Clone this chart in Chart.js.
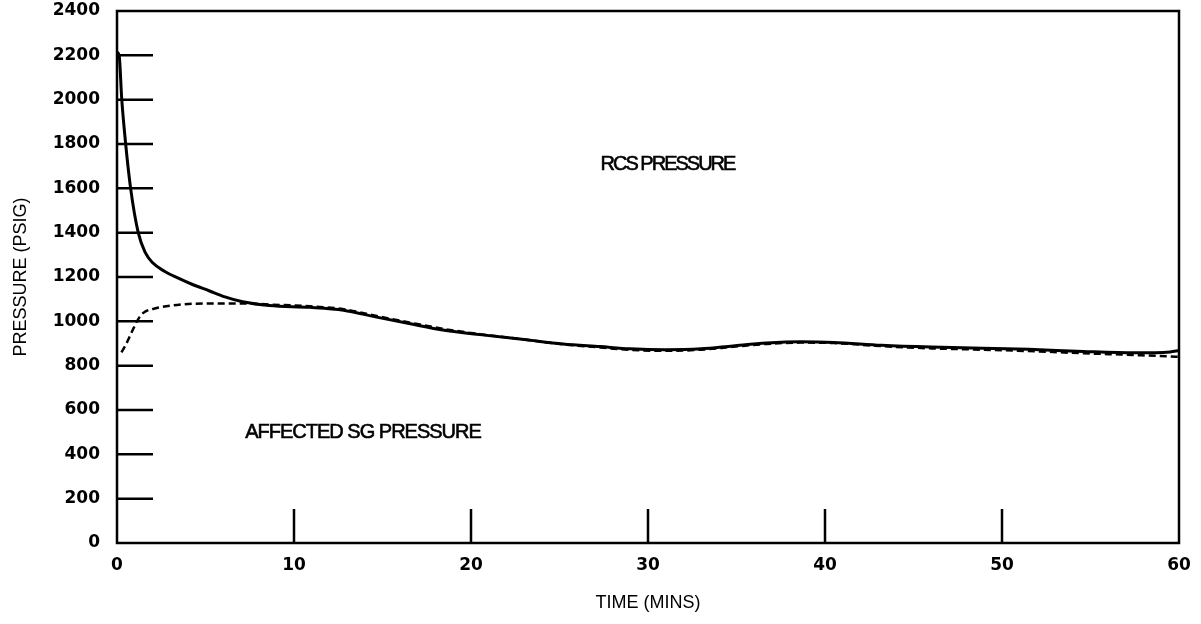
<!DOCTYPE html>
<html>
<head>
<meta charset="utf-8">
<title>RCS and Affected SG Pressure</title>
<script src="https://cdn.jsdelivr.net/npm/chart.js@4.4.1/dist/chart.umd.min.js"></script>
<style>
  html, body { margin: 0; padding: 0; background: #fff; }
</style>
</head>
<body>
<canvas id="pressureChart" width="1201" height="624"></canvas>
<script>
// Time (minutes) and pressure (psig) for the two traces
const rcsTime = [0, 0.12, 0.27, 0.49, 0.77, 1.2, 1.6, 2.0, 2.7, 3.4, 4.3, 5.2, 6.1, 7.1, 8.6, 10.9, 12.8, 14.6,
  16.5, 18.5, 20.5, 23, 25.2, 27.3, 29, 31, 33, 34.8, 36.7, 38.6, 40.5, 43.2, 46, 48.9, 51.5, 54.6, 57.5, 59.5, 60];
const rcsPressure = [2215, 2200, 2000, 1800, 1600, 1400, 1310, 1265, 1225, 1197, 1165, 1138, 1110, 1088, 1071, 1063, 1050, 1020,
  990, 960, 940, 918, 898, 886, 876, 872, 876, 889, 902, 908, 905, 892, 884, 879, 874, 864, 858, 862, 868];

const sgTime = [0.25, 0.5, 0.9, 1.2, 1.47, 2.2, 3.4, 5.2, 7.1, 8.6, 10.9, 12.8, 14.6, 16.5, 18.5, 20.5, 23, 25.2,
  27.3, 29, 31, 33, 34.8, 36.7, 38.6, 40.5, 43.2, 46, 48.9, 51.5, 54.6, 57.5, 60];
const sgPressure = [860, 895, 963, 1010, 1037, 1059, 1074, 1081, 1081, 1076, 1068, 1055, 1025, 995, 965, 942, 918, 896,
  882, 871, 867, 872, 885, 898, 904, 902, 888, 878, 872, 866, 856, 848, 840];

const timeTicks = [0, 10, 20, 30, 40, 50, 60];
const pressureTicks = [0, 200, 400, 600, 800, 1000, 1200, 1400, 1600, 1800, 2000, 2200, 2400];

function toPoints(xs, ys) {
  return xs.map((x, i) => ({ x: x, y: ys[i] }));
}

// frame, inward tick marks and the curve labels
const framePlugin = {
  id: 'frame',
  afterDraw(chart) {
    const { ctx, chartArea: a, scales: { x, y } } = chart;
    ctx.save();
    ctx.strokeStyle = '#000';
    ctx.lineWidth = 2.5;
    ctx.strokeRect(a.left, a.top, a.right - a.left, a.bottom - a.top);

    ctx.beginPath();
    pressureTicks.slice(1, -1).forEach(v => {
      const py = y.getPixelForValue(v);
      ctx.moveTo(a.left, py);
      ctx.lineTo(a.left + 36, py);
    });
    timeTicks.slice(1, -1).forEach(v => {
      const px = x.getPixelForValue(v);
      ctx.moveTo(px, a.bottom);
      ctx.lineTo(px, a.bottom - 34);
    });
    ctx.stroke();

    ctx.fillStyle = '#000';
    ctx.strokeStyle = '#000';
    ctx.lineWidth = 0.6;
    ctx.textAlign = 'center';
    ctx.textBaseline = 'middle';
    ctx.font = '20px "Liberation Sans", Arial, sans-serif';
    const labels = [
      ['RCS PRESSURE', 31.1, 1707, '-2px'],
      ['AFFECTED SG PRESSURE', 13.9, 498, '-1px']
    ];
    labels.forEach(([text, t, p, spacing]) => {
      ctx.letterSpacing = spacing;
      const px = x.getPixelForValue(t);
      const py = y.getPixelForValue(p);
      ctx.fillText(text, px, py);
      ctx.strokeText(text, px, py);
    });
    ctx.restore();
  }
};

const tickFont = { family: '"DejaVu Sans", sans-serif', size: 17, weight: 'bold' };
const titleFont = { family: '"Liberation Sans", Arial, sans-serif', size: 18 };

const pressureCtx = document.getElementById('pressureChart').getContext('2d');
new Chart(pressureCtx, {
  type: 'scatter',
  data: {
    datasets: [{
      label: 'RCS PRESSURE',
      data: toPoints(rcsTime, rcsPressure),
      showLine: true,
      borderColor: '#000',
      borderWidth: 3,
      pointRadius: 0,
      cubicInterpolationMode: 'monotone'
    }, {
      label: 'AFFECTED SG PRESSURE',
      data: toPoints(sgTime, sgPressure),
      showLine: true,
      borderColor: '#000',
      borderWidth: 2.5,
      borderDash: [7, 4],
      pointRadius: 0,
      cubicInterpolationMode: 'monotone'
    }]
  },
  options: {
    responsive: false,
    animation: false,
    devicePixelRatio: 1,
    layout: { padding: { top: 11, right: 22, left: 0, bottom: 0 } },
    plugins: {
      legend: { display: false },
      tooltip: { enabled: false }
    },
    scales: {
      x: {
        type: 'linear',
        min: 0,
        max: 60,
        afterFit: scale => {
          scale.height = 81;
          scale.paddingLeft = 0;
          scale.paddingRight = 0;
        },
        afterBuildTicks: scale => { scale.ticks = timeTicks.map(v => ({ value: v })); },
        grid: { display: false, drawTicks: false },
        border: { display: false },
        ticks: { color: '#000', font: tickFont, padding: 12, callback: v => String(v) },
        title: {
          display: true,
          text: 'TIME (MINS)',
          color: '#000',
          font: titleFont,
          padding: { top: 0, bottom: 10 }
        }
      },
      y: {
        type: 'linear',
        min: 0,
        max: 2400,
        afterFit: scale => {
          scale.width = 117;
          scale.paddingTop = 0;
          scale.paddingBottom = 0;
        },
        afterBuildTicks: scale => { scale.ticks = pressureTicks.map(v => ({ value: v })); },
        grid: { display: false, drawTicks: false },
        border: { display: false },
        ticks: { color: '#000', font: tickFont, padding: 17, callback: v => String(v) },
        title: {
          display: true,
          text: 'PRESSURE (PSIG)',
          color: '#000',
          font: titleFont,
          padding: { top: 10, bottom: 0 }
        }
      }
    }
  },
  plugins: [framePlugin]
});
</script>
</body>
</html>
